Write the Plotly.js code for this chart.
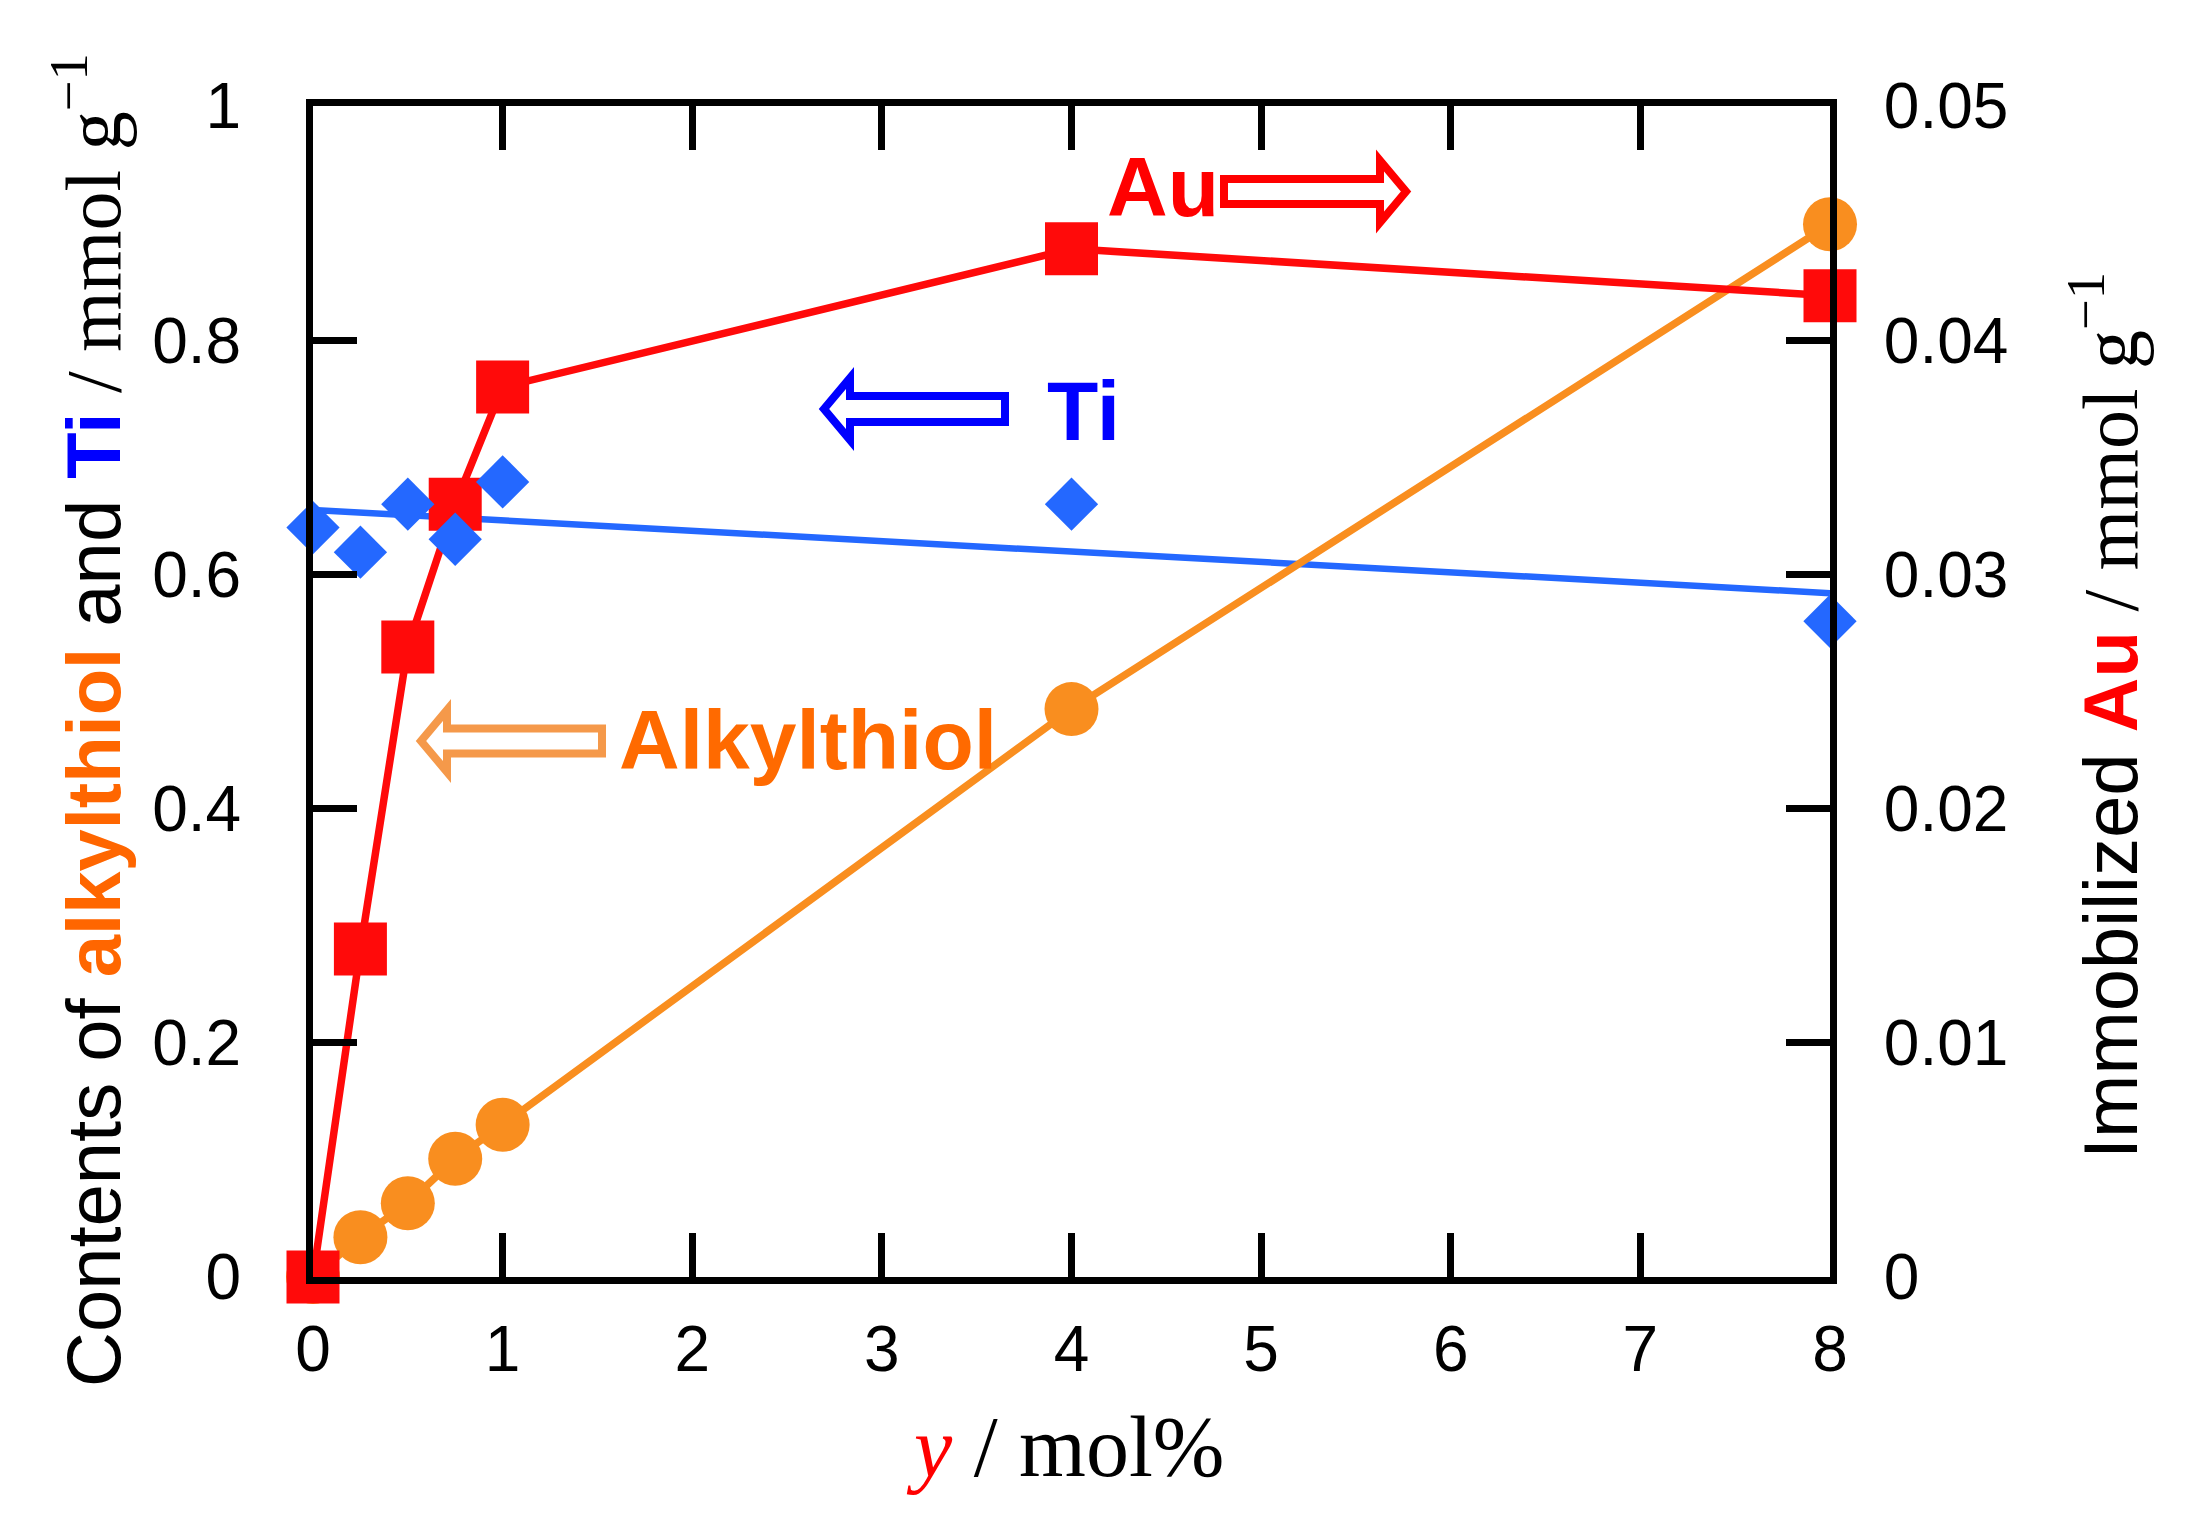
<!DOCTYPE html>
<html>
<head>
<meta charset="utf-8">
<script src="https://cdn.plot.ly/plotly-3.0.1.min.js"></script>
<style>
  html, body { margin: 0; padding: 0; background: #ffffff; }
  #chart { width: 2200px; height: 1524px; }
</style>
</head>
<body>
<div id="chart"></div>
<script>
// ---- data ----
const yMolPct      = [0, 0.25, 0.5, 0.75, 1, 4, 8];                         // y / mol%
const auContent    = [0, 0.0140, 0.0269, 0.0330, 0.0380, 0.0439, 0.0419];   // right axis, mmol g-1
const alkylthiol   = [0, 0.034, 0.063, 0.101, 0.130, 0.485, 0.899];         // left axis, mmol g-1
const tiContent    = [0.640, 0.619, 0.660, 0.630, 0.679, 0.660, 0.560];     // left axis, mmol g-1
const tiFitX       = [0, 8];                                                 // fitted line end points
const tiFitY       = [0.655, 0.584];

const xTickVals    = [0, 1, 2, 3, 4, 5, 6, 7, 8];
const xTickText    = ['0', '1', '2', '3', '4', '5', '6', '7', '8'];
const yLeftVals    = [0, 0.2, 0.4, 0.6, 0.8, 1];
const yLeftText    = ['0', '0.2', '0.4', '0.6', '0.8', '1'];
const yRightVals   = [0, 0.01, 0.02, 0.03, 0.04, 0.05];
const yRightText   = ['0', '0.01', '0.02', '0.03', '0.04', '0.05'];

// ---- layout geometry (pixels) ----
const W = 2200, H = 1524;
const PL = 313, PR = 1830, PT = 106, PB = 1277;
const px = v => (v - PL) / (PR - PL);
const py = v => (PB - v) / (PB - PT);

const RED = '#ff0a0a', ORANGE = '#f98e1f', BLUE = '#2468ff';
const SANS = 'Liberation Sans, Arial, sans-serif';
const SERIF = 'Liberation Serif, Times New Roman, serif';

function hollowArrow(tail, headBase, tip, yc, sh, hh) {
  const pts = [
    [tail, yc - sh], [headBase, yc - sh], [headBase, yc - hh], [tip, yc],
    [headBase, yc + hh], [headBase, yc + sh], [tail, yc + sh]
  ];
  return 'M ' + pts.map(p => px(p[0]).toFixed(5) + ' ' + py(p[1]).toFixed(5)).join(' L ') + ' Z';
}

const traces = [
  { // Ti fit line
    x: tiFitX, y: tiFitY, xaxis: 'x', yaxis: 'y',
    mode: 'lines', line: { color: BLUE, width: 6.5 },
    cliponaxis: false, hoverinfo: 'skip'
  },
  { // alkylthiol
    x: yMolPct, y: alkylthiol, xaxis: 'x', yaxis: 'y',
    mode: 'lines+markers',
    line: { color: ORANGE, width: 7.5 },
    marker: { symbol: 'circle', size: 54, color: ORANGE },
    cliponaxis: false
  },
  { // Au
    x: yMolPct, y: auContent, xaxis: 'x', yaxis: 'y2',
    mode: 'lines+markers',
    line: { color: RED, width: 7.5 },
    marker: { symbol: 'square', size: 53, color: RED },
    cliponaxis: false
  },
  { // Ti points
    x: yMolPct, y: tiContent, xaxis: 'x', yaxis: 'y3',
    mode: 'markers',
    marker: { symbol: 'diamond', size: 41, color: BLUE },
    cliponaxis: false
  }
];

const tickFont = { family: SANS, size: 64, color: '#000000' };

const layout = {
  width: W, height: H,
  margin: { l: PL, r: W - PR, t: PT, b: H - PB, pad: 0 },
  paper_bgcolor: '#ffffff', plot_bgcolor: '#ffffff',
  showlegend: false,
  font: { family: SANS, color: '#000000' },
  xaxis: {
    range: [0, 8], tickmode: 'array', tickvals: xTickVals, ticktext: xTickText,
    ticks: 'inside', ticklen: 44, tickwidth: 7, tickcolor: '#000',
    showline: true, linewidth: 7, linecolor: '#000', mirror: 'ticks',
    showgrid: false, zeroline: false, tickfont: tickFont, ticklabelstandoff: 10
  },
  yaxis: {
    range: [0, 1], tickmode: 'array', tickvals: yLeftVals, ticktext: yLeftText,
    ticks: 'inside', ticklen: 44, tickwidth: 7, tickcolor: '#000',
    showline: true, linewidth: 7, linecolor: '#000',
    showgrid: false, zeroline: false, tickfont: tickFont, ticklabelstandoff: 52
  },
  yaxis2: {
    range: [0, 0.05], overlaying: 'y', side: 'right',
    tickmode: 'array', tickvals: yRightVals, ticktext: yRightText,
    ticks: 'inside', ticklen: 44, tickwidth: 7, tickcolor: '#000',
    showline: true, linewidth: 7, linecolor: '#000',
    showgrid: false, zeroline: false, tickfont: tickFont, ticklabelstandoff: 34
  },
  yaxis3: {
    range: [0, 1], overlaying: 'y', side: 'left',
    visible: false, showgrid: false, zeroline: false
  },
  shapes: [
    { type: 'path', xref: 'paper', yref: 'paper', path: hollowArrow(1224, 1380, 1406, 191.5, 12.5, 31),
      line: { color: '#ff0000', width: 8 }, fillcolor: 'rgba(0,0,0,0)' },
    { type: 'path', xref: 'paper', yref: 'paper', path: hollowArrow(1005, 850, 824, 409, 13, 31),
      line: { color: '#0000ff', width: 8 }, fillcolor: 'rgba(0,0,0,0)' },
    { type: 'path', xref: 'paper', yref: 'paper', path: hollowArrow(602, 447, 421, 741, 12.5, 31),
      line: { color: '#f5994a', width: 8 }, fillcolor: 'rgba(0,0,0,0)' }
  ],
  annotations: [
    { xref: 'paper', yref: 'paper', x: px(1105), y: py(187), xanchor: 'left', yanchor: 'middle',
      text: '<b>Au</b>', showarrow: false, font: { family: SANS, size: 84, color: '#ff0000' } },
    { xref: 'paper', yref: 'paper', x: px(1045), y: py(411), xanchor: 'left', yanchor: 'middle',
      text: '<b>Ti</b>', showarrow: false, font: { family: SANS, size: 84, color: '#0000ff' } },
    { xref: 'paper', yref: 'paper', x: px(617), y: py(740), xanchor: 'left', yanchor: 'middle',
      text: '<b>Alkylthiol</b>', showarrow: false, font: { family: SANS, size: 84, color: '#ff6a00' } },
    { // left axis title
      xref: 'paper', yref: 'paper', x: px(87), y: py(720), xanchor: 'center', yanchor: 'middle',
      textangle: -90, showarrow: false, font: { family: SANS, size: 76, color: '#000000' },
      text: 'Contents of <span style="color:#ff6600;font-weight:bold">alkylthiol</span> and ' +
            '<span style="color:#0000ff;font-weight:bold">Ti</span>' +
            '<span style="font-family:Liberation Serif;font-size:78px"> / mmol g<sup>−1</sup></span>'
    },
    { // right axis title
      xref: 'paper', yref: 'paper', x: px(2104), y: py(716), xanchor: 'center', yanchor: 'middle',
      textangle: -90, showarrow: false, font: { family: SANS, size: 76, color: '#000000' },
      text: 'Immobilized <span style="color:#ff0000;font-weight:bold">Au</span>' +
            '<span style="font-family:Liberation Serif;font-size:78px"> / mmol g<sup>−1</sup></span>'
    },
    { // x axis title
      xref: 'paper', yref: 'paper', x: px(1065), y: py(1447), xanchor: 'center', yanchor: 'middle',
      showarrow: false, font: { family: SERIF, size: 86, color: '#000000' },
      text: '<span style="color:#ff0000;font-style:italic">y</span> / mol%'
    }
  ]
};

Plotly.newPlot('chart', traces, layout, { staticPlot: true, displayModeBar: false });
</script>
</body>
</html>
